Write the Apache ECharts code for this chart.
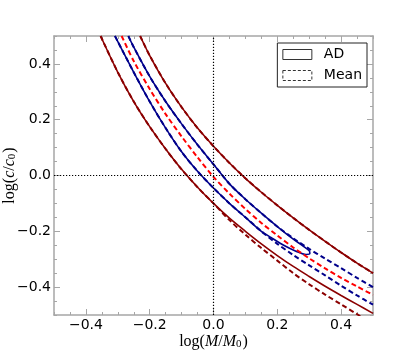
<!DOCTYPE html>
<html lang="en">
<head>
    <meta charset="UTF-8">
    <title>log(c/c0) vs log(M/M0)</title>
    <script src="https://cdn.jsdelivr.net/npm/echarts@6/dist/echarts.min.js"></script>
    <style>html, body { margin: 0; padding: 0; background: #fff; }</style>
</head>
<body>
<div id="main" style="width: 415px;height:363px;"></div>

<script type="text/javascript">
    // outer contour, AD (solid dark red)
    var adOuterUpX = [-0.23, -0.2, -0.15, -0.1, -0.05, 0.0, 0.05, 0.1, 0.15, 0.2, 0.25, 0.3, 0.35, 0.4, 0.45, 0.5];
    var adOuterUpY = [0.50, 0.43, 0.33, 0.245, 0.17, 0.105, 0.045, -0.01, -0.06, -0.107, -0.152, -0.195, -0.236, -0.276, -0.314, -0.35];
    var adOuterLowX = [-0.354, -0.3, -0.25, -0.2, -0.15, -0.1, -0.05, 0.0, 0.05, 0.1, 0.15, 0.2, 0.25, 0.3, 0.35, 0.4, 0.45, 0.5];
    var adOuterLowY = [0.50, 0.37, 0.265, 0.175, 0.095, 0.022, -0.042, -0.1, -0.153, -0.2, -0.245, -0.287, -0.326, -0.362, -0.397, -0.43, -0.462, -0.494];

    // inner contour, AD (solid navy, closed)
    var adInnerX = [-0.267, -0.25, -0.2, -0.15, -0.1, -0.05, 0.0, 0.05, 0.1, 0.15, 0.2, 0.25, 0.28, 0.3, 0.302,
        0.29, 0.26, 0.22, 0.18, 0.15, 0.1, 0.05, 0.0, -0.05, -0.1, -0.15, -0.2, -0.25, -0.3, -0.309];
    var adInnerY = [0.5, 0.46, 0.355, 0.265, 0.185, 0.11, 0.04, -0.03, -0.085, -0.135, -0.183, -0.228, -0.252, -0.27, -0.28,
        -0.283, -0.272, -0.25, -0.222, -0.2, -0.15, -0.1, -0.045, 0.015, 0.085, 0.17, 0.265, 0.37, 0.48, 0.5];

    // outer contour, Mean (dashed dark red)
    var meanOuterUpX = [-0.23, -0.2, -0.15, -0.1, -0.05, 0.0, 0.05, 0.1, 0.15, 0.2, 0.25, 0.3, 0.35, 0.4, 0.45, 0.5];
    var meanOuterUpY = [0.50, 0.43, 0.33, 0.245, 0.17, 0.105, 0.045, -0.01, -0.06, -0.107, -0.152, -0.195, -0.236, -0.276, -0.314, -0.35];
    var meanOuterLowX = [-0.354, -0.3, -0.25, -0.2, -0.15, -0.1, -0.05, 0.0, 0.05, 0.1, 0.15, 0.2, 0.25, 0.3, 0.35, 0.4, 0.45, 0.46];
    var meanOuterLowY = [0.50, 0.37, 0.265, 0.175, 0.095, 0.022, -0.042, -0.1, -0.16, -0.212, -0.26, -0.305, -0.35, -0.39, -0.427, -0.462, -0.497, -0.504];

    // inner contour, Mean (dashed navy)
    var meanInnerUpX = [-0.267, -0.25, -0.2, -0.15, -0.1, -0.05, 0.0, 0.05, 0.1, 0.15, 0.2, 0.25, 0.3, 0.35, 0.4, 0.45, 0.5];
    var meanInnerUpY = [0.5, 0.46, 0.355, 0.265, 0.185, 0.11, 0.04, -0.03, -0.085, -0.135, -0.183, -0.225, -0.263, -0.298, -0.332, -0.367, -0.40];
    var meanInnerLowX = [-0.309, -0.3, -0.25, -0.2, -0.15, -0.1, -0.05, 0.0, 0.05, 0.1, 0.15, 0.2, 0.25, 0.3, 0.35, 0.4, 0.45, 0.5];
    var meanInnerLowY = [0.5, 0.48, 0.37, 0.265, 0.17, 0.085, 0.015, -0.045, -0.1, -0.15, -0.2, -0.245, -0.285, -0.322, -0.358, -0.395, -0.43, -0.463];

    // centre line, Mean (dashed red)
    var meanCentreX = [-0.288, -0.25, -0.2, -0.15, -0.1, -0.05, 0.0, 0.05, 0.1, 0.15, 0.2, 0.25, 0.3, 0.35, 0.4, 0.45, 0.5];
    var meanCentreY = [0.5, 0.41, 0.31, 0.22, 0.14, 0.065, -0.005, -0.065, -0.12, -0.17, -0.215, -0.258, -0.297, -0.333, -0.367, -0.398, -0.428];

    // ticks
    var xTicks = [-0.4, -0.2, 0.0, 0.2, 0.4];
    var yTicks = [-0.4, -0.2, 0.0, 0.2, 0.4];

    var DARKRED = '#8b0000', NAVY = '#00008b', RED = '#ff0000', FRAME = '#a6a6a6';

    function zip(xs, ys) {
        return xs.map(function (x, i) { return [x, ys[i]]; });
    }
    function fmt(v) {
        return v.toFixed(1).replace('-', '\u2212');
    }
    var nameRich = {
        n: {fontFamily: 'Liberation Serif', fontSize: 16, color: '#000', lineHeight: 17, verticalAlign: 'bottom'},
        i: {fontFamily: 'Liberation Serif', fontStyle: 'italic', fontSize: 16, color: '#000', lineHeight: 17, verticalAlign: 'bottom'},
        s: {fontFamily: 'Liberation Serif', fontSize: 11, color: '#000', lineHeight: 8, verticalAlign: 'bottom', padding: [0, 1, 0, 0]}
    };

    // one axis per side with short ticks, one overlay with the long ones
    function sideAxis(pos, isX, major, withLabels) {
        var ticks = isX ? xTicks : yTicks;
        var ax = {
            type: 'value', min: -0.5, max: 0.5, position: pos,
            splitLine: {show: false},
            axisLine: {show: !major, onZero: false, lineStyle: {color: FRAME, width: 1.5}},
            axisTick: {inside: true, length: major ? 6 : 3, lineStyle: {color: FRAME, width: 1}},
            axisLabel: {show: false}
        };
        if (major) {
            ax.axisTick.customValues = ticks;
        } else {
            ax.interval = 0.05;
        }
        if (withLabels) {
            ax.axisLabel = {
                show: true, customValues: ticks, formatter: fmt, color: '#000',
                fontFamily: 'DejaVu Sans', fontSize: 14, margin: 3
            };
        }
        return ax;
    }

    var xMain = sideAxis('bottom', true, false, true);
    xMain.name = '{n|log(}{i|M}{n|/}{i|M}{s|0}{n|)}';
    xMain.nameLocation = 'middle';
    xMain.nameGap = 18;
    xMain.nameMoveOverlap = false;
    xMain.nameTextStyle = {rich: nameRich};

    var yMain = sideAxis('left', false, false, true);
    yMain.name = '{n|log(}{i|c}{n|/}{i|c}{s|0}{n|)}';
    yMain.nameLocation = 'middle';
    yMain.nameRotate = 90;
    yMain.nameGap = 36;
    yMain.nameMoveOverlap = false;
    yMain.nameTextStyle = {rich: nameRich};

    var myChart = echarts.init(document.getElementById('main'));

    function line(name, data, color, dashed, width) {
        return {
            name: name, type: 'line', data: data, showSymbol: false, symbol: 'none',
            silent: true, clip: true, smooth: 0.3,
            lineStyle: {color: color, width: width, type: dashed ? [5, 3] : 'solid'},
            itemStyle: {color: color}
        };
    }

    var refLines = {
        name: 'ref', type: 'line', data: [], silent: true, z: 1,
        markLine: {
            silent: true, symbol: 'none', label: {show: false},
            lineStyle: {color: '#000', type: [1.2, 1.8], width: 1.2},
            data: [{xAxis: 0}, {yAxis: 0}]
        }
    };

    myChart.setOption({
        animation: false,
        backgroundColor: '#fff',
        grid: {left: 54, right: 42, top: 36, bottom: 48, containLabel: false, outerBoundsMode: 'none'},
        legend: {
            orient: 'vertical', right: 48, top: 43,
            padding: [4.5, 5, 4.5, 5], itemGap: 7, itemWidth: 29, itemHeight: 10,
            backgroundColor: '#fff', borderColor: '#222', borderWidth: 1, borderRadius: 0,
            selectedMode: false,
            textStyle: {fontFamily: 'DejaVu Sans', fontSize: 14, color: '#000', padding: [0, 0, 0, 7]},
            data: [
                {name: 'AD', icon: 'rect', itemStyle: {color: 'rgba(0,0,0,0)', borderColor: '#333', borderWidth: 1}},
                {name: 'Mean', icon: 'rect', itemStyle: {color: 'rgba(0,0,0,0)', borderColor: '#333', borderWidth: 1, borderType: [3, 2]}}
            ]
        },
        xAxis: [xMain, sideAxis('bottom', true, true, false), sideAxis('top', true, false, false), sideAxis('top', true, true, false)],
        yAxis: [yMain, sideAxis('left', false, true, false), sideAxis('right', false, false, false), sideAxis('right', false, true, false)],
        series: [
            refLines,
            line('AD', zip(adOuterUpX, adOuterUpY), DARKRED, false, 1.6),
            line('AD', zip(adOuterLowX, adOuterLowY), DARKRED, false, 1.6),
            line('AD', zip(adInnerX, adInnerY), NAVY, false, 1.6),
            line('Mean', zip(meanOuterUpX, meanOuterUpY), DARKRED, true, 2),
            line('Mean', zip(meanOuterLowX, meanOuterLowY), DARKRED, true, 2),
            line('Mean', zip(meanInnerUpX, meanInnerUpY), NAVY, true, 2),
            line('Mean', zip(meanInnerLowX, meanInnerLowY), NAVY, true, 2),
            line('Mean', zip(meanCentreX, meanCentreY), RED, true, 2)
        ]
    });
</script>
</body>
</html>
